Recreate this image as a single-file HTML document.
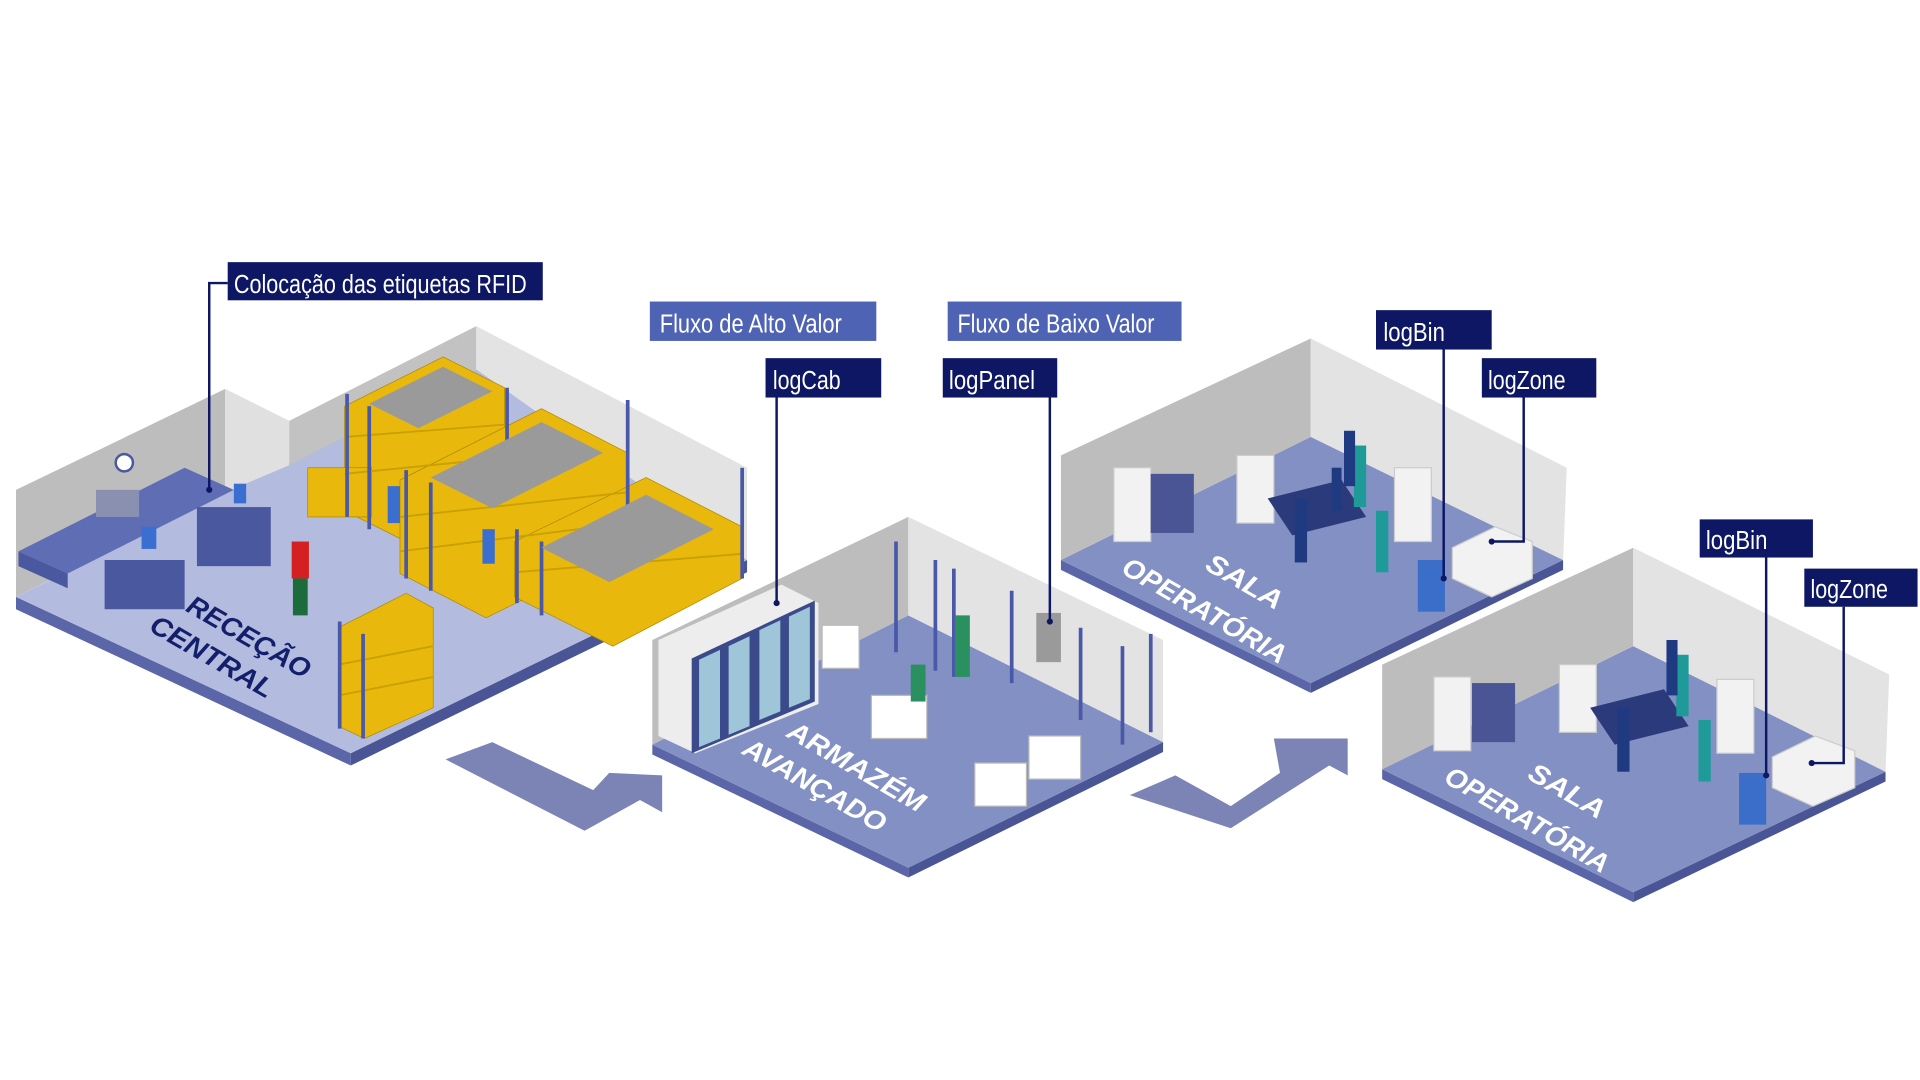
<!DOCTYPE html>
<html><head><meta charset="utf-8"><style>
html,body{margin:0;padding:0;background:#fff;}
svg{display:block;}
.lb{font-family:"Liberation Sans",sans-serif;font-size:21px;fill:#fff;}
.rm{font-family:"Liberation Sans","DejaVu Sans",sans-serif;font-weight:bold;font-style:italic;font-size:22px;}
</style></head><body>
<svg width="1920" height="1080" viewBox="0 0 1560 877.5" xmlns="http://www.w3.org/2000/svg">
<rect width="1560" height="877.5" fill="#fff"/>

<!-- ROOM 1 RECECAO -->
<polygon points="13,485 285,612 285,622 13,495" fill="#5b66a8"/>
<polygon points="285,612 607,455 607,465 285,622" fill="#4a5595"/>
<polygon points="13,485 387,300 607,455 285,612" fill="#b3bbdf"/>
<polygon points="13,398 183,316 183,400 13,485" fill="#bdbdbd"/>
<polygon points="183,316 235,342 235,378 183,400" fill="#e0e0e0"/>
<polygon points="235,342 387,265 387,300 235,378" fill="#c2c2c2"/>
<polygon points="387,265 607,380 607,455 387,300" fill="#e3e3e3"/>
<!-- desks -->
<polygon points="15,448 150,380 190,398 55,466" fill="#5f6db5"/>
<polygon points="15,448 55,466 55,478 15,460" fill="#4a58a0"/>
<rect x="85" y="455" width="65" height="40" fill="#4a58a0"/>
<rect x="160" y="412" width="60" height="48" fill="#4a58a0"/>
<circle cx="101" cy="376" r="7" fill="#fff" stroke="#4a58a0" stroke-width="2"/>
<rect x="78" y="398" width="35" height="22" fill="#8a90b0"/>
<!-- shelves racks -->
<g fill="#e8b80c" stroke="#b08a00" stroke-width="0.6">
<polygon points="280,330 360,290 410,315 410,400 330,440 280,415"/>
<polygon points="325,390 440,332 510,368 510,445 395,502 325,466"/>
<polygon points="418,440 525,388 603,428 603,470 498,525 418,485"/>
<polygon points="275,510 330,482 352,494 352,575 296,600 275,590"/>
<rect x="250" y="380" width="52" height="40"/>
</g>
<g stroke="#c9a000" stroke-width="1.5">
<line x1="280" y1="355" x2="410" y2="345"/><line x1="280" y1="385" x2="410" y2="372"/>
<line x1="325" y1="420" x2="510" y2="400"/><line x1="325" y1="448" x2="510" y2="425"/>
<line x1="418" y1="465" x2="603" y2="450"/><line x1="275" y1="540" x2="352" y2="525"/><line x1="275" y1="565" x2="352" y2="550"/>
</g>
<g stroke="#4a58a8" stroke-width="3" fill="none">
<line x1="282" y1="320" x2="282" y2="420"/><line x1="300" y1="330" x2="300" y2="430"/>
<line x1="330" y1="382" x2="330" y2="470"/><line x1="350" y1="392" x2="350" y2="480"/>
<line x1="420" y1="430" x2="420" y2="490"/><line x1="440" y1="440" x2="440" y2="500"/>
<line x1="276" y1="505" x2="276" y2="592"/><line x1="295" y1="515" x2="295" y2="600"/>
<line x1="412" y1="315" x2="412" y2="400"/><line x1="510" y1="325" x2="510" y2="445"/><line x1="603" y1="380" x2="603" y2="470"/>
</g>
<g fill="#9a9a9a">
<polygon points="300,328 360,298 400,318 340,348"/>
<polygon points="350,388 440,343 490,368 400,413"/>
<polygon points="440,445 525,402 580,430 495,473"/>
</g>
<!-- people -->
<rect x="237" y="440" width="14" height="30" fill="#d42020"/><rect x="238" y="470" width="12" height="30" fill="#1c6b3a"/>
<rect x="315" y="395" width="10" height="30" fill="#3a6ed0"/><rect x="392" y="430" width="10" height="28" fill="#3a6ed0"/>
<rect x="115" y="428" width="12" height="18" fill="#3a6ed0"/><rect x="190" y="393" width="10" height="16" fill="#3a6ed0"/>
<text class="rm" fill="#131f6b" textLength="112" lengthAdjust="spacingAndGlyphs" transform="translate(150,496) rotate(30)">RECEÇÃO</text>
<text class="rm" fill="#131f6b" textLength="112" lengthAdjust="spacingAndGlyphs" transform="translate(120,512) rotate(30)">CENTRAL</text>

<!-- Arrow 1 -->
<polygon points="362,617 400,603 482,642 495,628 538,630 538,660 520,650 475,675" fill="#7b84b5"/>

<!-- ROOM 2 ARMAZEM -->
<polygon points="530,605 738,705 738,713 530,613" fill="#5b66a8"/>
<polygon points="738,705 945,603 945,611 738,713" fill="#4a5595"/>
<polygon points="530,605 738,500 945,603 738,705" fill="#8390c4"/>
<polygon points="530,520 738,420 738,500 530,605" fill="#bdbdbd"/>
<polygon points="738,420 945,520 945,603 738,500" fill="#e3e3e3"/>
<polygon points="535,520 635,475 665,490 665,572 565,612 535,598" fill="#ededed"/>
<polygon points="562,535 662,488 662,570 562,612" fill="#3a4a8a"/>
<g fill="#9fc6d8"><polygon points="568,536 585,528 585,600 568,607"/><polygon points="592,525 609,517 609,590 592,597"/><polygon points="617,512 634,504 634,578 617,585"/><polygon points="641,501 658,493 658,568 641,575"/></g>
<g stroke="#4a58a8" stroke-width="3"><line x1="728" y1="440" x2="728" y2="530"/><line x1="760" y1="455" x2="760" y2="545"/><line x1="775" y1="462" x2="775" y2="550"/><line x1="822" y1="480" x2="822" y2="555"/><line x1="878" y1="510" x2="878" y2="585"/><line x1="912" y1="525" x2="912" y2="605"/><line x1="935" y1="515" x2="935" y2="595"/></g>
<rect x="842" y="498" width="20" height="40" fill="#9a9a9a"/>
<g fill="#fff" stroke="#bbb"><rect x="668" y="508" width="30" height="35"/><rect x="708" y="565" width="45" height="35"/><rect x="792" y="620" width="42" height="35"/><rect x="836" y="598" width="42" height="35"/></g>
<rect x="740" y="540" width="12" height="30" fill="#2a9060"/><rect x="776" y="500" width="12" height="50" fill="#2a9060"/>
<text class="rm" fill="#fff" textLength="125" lengthAdjust="spacingAndGlyphs" transform="translate(638,598) rotate(30)">ARMAZÉM</text>
<text class="rm" fill="#fff" textLength="130" lengthAdjust="spacingAndGlyphs" transform="translate(602,612) rotate(30)">AVANÇADO</text>

<!-- Arrow 2 -->
<polygon points="918,646 955,630 1000,655 1040,628 1035,600 1095,600 1095,630 1080,622 1000,673" fill="#7b84b5"/>

<!-- ROOM 3 SALA -->
<polygon points="862,455 1065,555 1065,563 862,463" fill="#5b66a8"/>
<polygon points="1065,555 1270,455 1270,463 1065,563" fill="#4a5595"/>
<polygon points="862,455 1065,355 1270,455 1065,555" fill="#8390c4"/>
<polygon points="862,370 1065,275 1065,355 862,455" fill="#bdbdbd"/>
<polygon points="1065,275 1273,380 1270,455 1065,355" fill="#e3e3e3"/>
<g fill="#f2f2f2" stroke="#ccc"><rect x="905" y="380" width="30" height="60"/><rect x="1005" y="370" width="30" height="55"/><rect x="1133" y="380" width="30" height="60"/><polygon points="1180,445 1215,428 1245,440 1245,470 1212,485 1180,470"/></g>
<g fill="#4a5595"><rect x="935" y="385" width="35" height="48"/></g>
<polygon points="1030,405 1090,390 1110,420 1050,435" fill="#2a3a7a"/>
<rect x="1152" y="455" width="22" height="42" fill="#3a6ec8"/>
<g fill="#1e9a98"><rect x="1100" y="362" width="10" height="50"/><rect x="1118" y="415" width="10" height="50"/></g>
<g fill="#1f3a80"><rect x="1052" y="405" width="10" height="52"/><rect x="1092" y="350" width="9" height="45"/><rect x="1082" y="380" width="8" height="35"/></g>
<text class="rm" fill="#fff" textLength="68" lengthAdjust="spacingAndGlyphs" transform="translate(978,462) rotate(30)">SALA</text>
<text class="rm" fill="#fff" textLength="150" lengthAdjust="spacingAndGlyphs" transform="translate(910,465) rotate(30)">OPERATÓRIA</text>

<!-- ROOM 4 SALA -->
<polygon points="1123,625 1327,725 1327,733 1123,633" fill="#5b66a8"/>
<polygon points="1327,725 1532,627 1532,635 1327,733" fill="#4a5595"/>
<polygon points="1123,625 1327,525 1532,627 1327,725" fill="#8390c4"/>
<polygon points="1123,540 1327,445 1327,525 1123,625" fill="#bdbdbd"/>
<polygon points="1327,445 1535,548 1532,627 1327,525" fill="#e3e3e3"/>
<g fill="#f2f2f2" stroke="#ccc"><rect x="1165" y="550" width="30" height="60"/><rect x="1267" y="540" width="30" height="55"/><rect x="1395" y="552" width="30" height="60"/><polygon points="1440,615 1475,598 1507,610 1507,640 1473,655 1440,640"/></g>
<rect x="1196" y="555" width="35" height="48" fill="#4a5595"/>
<polygon points="1292,575 1352,560 1372,590 1312,605" fill="#2a3a7a"/>
<rect x="1413" y="628" width="22" height="42" fill="#3a6ec8"/>
<g fill="#1e9a98"><rect x="1362" y="532" width="10" height="50"/><rect x="1380" y="585" width="10" height="50"/></g>
<g fill="#1f3a80"><rect x="1314" y="575" width="10" height="52"/><rect x="1354" y="520" width="9" height="45"/></g>
<text class="rm" fill="#fff" textLength="68" lengthAdjust="spacingAndGlyphs" transform="translate(1240,632) rotate(30)">SALA</text>
<text class="rm" fill="#fff" textLength="150" lengthAdjust="spacingAndGlyphs" transform="translate(1172,635) rotate(30)">OPERATÓRIA</text>

<!-- leader lines -->
<g stroke="#0d1763" stroke-width="2" fill="none">
<polyline points="185,230 170,230 170,398"/>
<line x1="631" y1="323" x2="631" y2="490"/>
<line x1="853" y1="323" x2="853" y2="505"/>
<line x1="1173" y1="284" x2="1173" y2="470"/>
<polyline points="1238,323 1238,440 1212,440"/>
<line x1="1435" y1="453" x2="1435" y2="630"/>
<polyline points="1498,493 1498,620 1472,620"/>
</g>
<g fill="#0d1763"><circle cx="170" cy="398" r="2.5"/><circle cx="631" cy="490" r="2.5"/><circle cx="853" cy="505" r="2.5"/><circle cx="1173" cy="470" r="2.5"/><circle cx="1212" cy="440" r="2.5"/><circle cx="1435" cy="630" r="2.5"/><circle cx="1472" cy="620" r="2.5"/></g>

<!-- labels -->
<rect x="185" y="213" width="256" height="31" fill="#0d1763"/><text class="lb" x="190" y="238" textLength="238" lengthAdjust="spacingAndGlyphs">Colocação das etiquetas RFID</text>
<rect x="528" y="245" width="184" height="32" fill="#4f63b5"/><text class="lb" x="536" y="270" textLength="148" lengthAdjust="spacingAndGlyphs">Fluxo de Alto Valor</text>
<rect x="622" y="291" width="94" height="32" fill="#0d1763"/><text class="lb" x="628" y="316" textLength="55" lengthAdjust="spacingAndGlyphs">logCab</text>
<rect x="770" y="245" width="190" height="32" fill="#4f63b5"/><text class="lb" x="778" y="270" textLength="160" lengthAdjust="spacingAndGlyphs">Fluxo de Baixo Valor</text>
<rect x="766" y="291" width="93" height="32" fill="#0d1763"/><text class="lb" x="771" y="316" textLength="70" lengthAdjust="spacingAndGlyphs">logPanel</text>
<rect x="1118" y="252" width="94" height="32" fill="#0d1763"/><text class="lb" x="1124" y="277" textLength="50" lengthAdjust="spacingAndGlyphs">logBin</text>
<rect x="1204" y="291" width="93" height="32" fill="#0d1763"/><text class="lb" x="1209" y="316" textLength="63" lengthAdjust="spacingAndGlyphs">logZone</text>
<rect x="1381" y="422" width="92" height="31" fill="#0d1763"/><text class="lb" x="1386" y="446" textLength="50" lengthAdjust="spacingAndGlyphs">logBin</text>
<rect x="1466" y="462" width="92" height="31" fill="#0d1763"/><text class="lb" x="1471" y="486" textLength="63" lengthAdjust="spacingAndGlyphs">logZone</text>
</svg>
</body></html>
